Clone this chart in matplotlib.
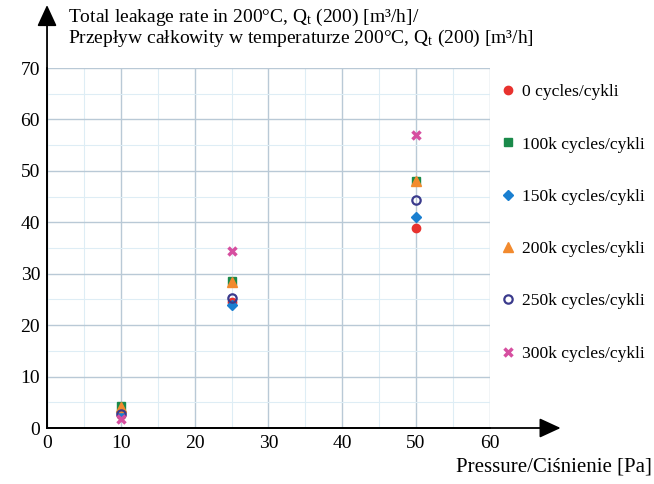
import matplotlib.pyplot as plt
from matplotlib.lines import Line2D

plt.rcParams["font.family"] = ["Liberation Serif", "DejaVu Serif"]
plt.rcParams["mathtext.fontset"] = "custom"
plt.rcParams["mathtext.rm"] = "Liberation Serif"
plt.rcParams["mathtext.it"] = "Liberation Serif:italic"

# data
pressure = [10, 25, 50]
labels = ["0 cycles/cykli", "100k cycles/cykli", "150k cycles/cykli",
          "200k cycles/cykli", "250k cycles/cykli", "300k cycles/cykli"]
q_0k = [2.5, 24.5, 38.8]
q_100k = [4.3, 28.5, 48.0]
q_150k = [3.2, 24.0, 41.0]
q_200k = [4.0, 28.3, 48.0]
q_250k = [2.8, 25.2, 44.3]
q_300k = [1.8, 34.4, 56.9]
series = [q_0k, q_100k, q_150k, q_200k, q_250k, q_300k]

styles = [
    dict(marker="o", color="#e8322e", ms=6, mec="#e8322e"),
    dict(marker="s", color="#1a8a4a", ms=6, mec="#1a8a4a"),
    dict(marker="D", color="#1a7fd0", ms=5, mec="#1a7fd0"),
    dict(marker="^", color="#f28a2e", ms=7, mec="#f28a2e"),
    dict(marker="o", color="none", ms=6, mec="#3a3a8c", mew=1.6),
    dict(marker="x", color="#d64fa0", ms=6, mec="#d64fa0", mew=2.5),
]
FS = 14

fig = plt.figure(figsize=(6.54, 4.84), dpi=100)
ax = fig.add_axes([0.0719, 0.1157, 0.677, 0.7438])

handles = []
for vals, lab, st in zip(series, labels, styles):
    ax.plot(pressure, vals, linestyle="none", zorder=3, clip_on=False, **st)
    handles.append(Line2D([], [], linestyle="none", label=lab, **st))

ax.set_xlim(0, 60)
ax.set_ylim(0, 70)
ax.set_xticks(range(0, 61, 10))
ax.set_yticks(range(0, 71, 10))
ax.set_xticks(range(0, 61, 5), minor=True)
ax.set_yticks(range(0, 71, 5), minor=True)
ax.grid(True, which="major", color="#b9c9d6", linewidth=1.0)
ax.grid(True, which="minor", color="#deedf5", linewidth=0.8)
ax.tick_params(which="both", length=0, labelsize=FS, pad=5)
for s in ["top", "right"]:
    ax.spines[s].set_visible(False)
for s in ["left", "bottom"]:
    ax.spines[s].set_color("black")
    ax.spines[s].set_linewidth(1.3)
ax.set_axisbelow(True)

# arrow heads on the axes
arrow = dict(arrowstyle="-|>,head_length=1.3,head_width=0.6",
             color="black", lw=1.3, shrinkA=0, shrinkB=0)
ax.annotate("", xy=(1.16, 0), xytext=(0, 0), xycoords="axes fraction",
            arrowprops=arrow)
ax.annotate("", xy=(0, 1.175), xytext=(0, 0), xycoords="axes fraction",
            arrowprops=arrow)

fig.text(0.104, 0.985,
         "Total leakage rate in 200°C, Q$_{\\rm t}$ (200) [m³/h]/\n"
         "Przepływ całkowity w temperaturze 200°C, Q$_{\\rm t}$ (200) [m³/h]",
         ha="left", va="top", fontsize=FS, linespacing=0.95)
fig.text(0.997, 0.035, "Pressure/Ciśnienie [Pa]", ha="right", va="center",
         fontsize=15)

fig.legend(handles=handles, loc="upper left", bbox_to_anchor=(0.755, 0.841),
           frameon=False, fontsize=12.6, handlelength=0.8, handletextpad=0.4,
           labelspacing=2.06, borderaxespad=0)

fig.savefig("out.png", dpi=100)
